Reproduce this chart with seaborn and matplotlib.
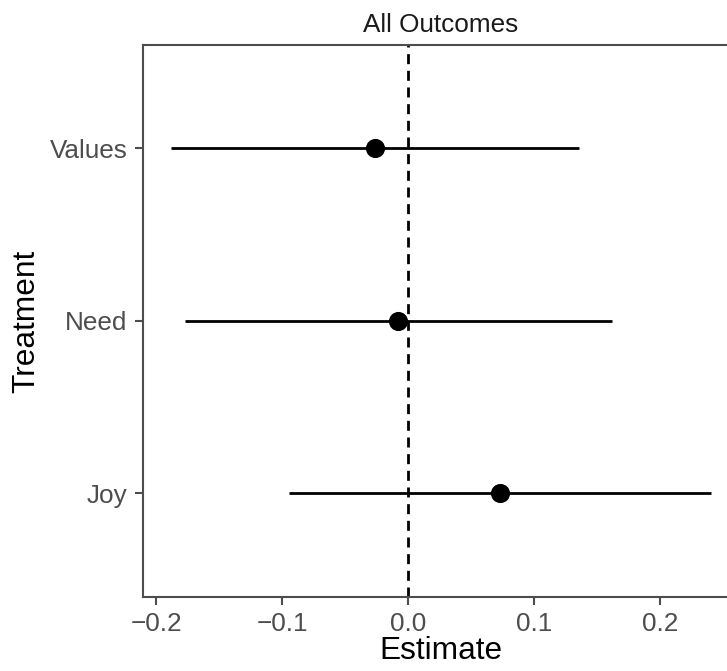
import numpy as np
import pandas as pd
import matplotlib
matplotlib.use("Agg")
import matplotlib.pyplot as plt
import seaborn as sns

# estimates
treatment = ["Joy", "Need", "Values"]
estimate = [0.0726, -0.0083, -0.0266]
ci_low = [-0.0948, -0.1774, -0.1885]
ci_high = [0.2401, 0.1615, 0.1353]

df = pd.DataFrame({"Treatment": treatment, "Estimate": estimate,
                   "lo": ci_low, "hi": ci_high})

sns.set_theme(style="ticks")
plt.rcParams["font.family"] = ["Liberation Sans", "DejaVu Sans"]

fig = plt.figure(figsize=(7.27, 6.71), dpi=100)
ax = fig.add_axes([0.1967, 0.1103, 0.8184, 0.8227])

ax.axvline(0, color="black", linestyle=(0, (3.6, 2.4)), linewidth=2.0, zorder=1)
ax.hlines(y=df["Treatment"], xmin=df["lo"], xmax=df["hi"], color="black",
          linewidth=2.0, zorder=2)
sns.scatterplot(data=df, x="Estimate", y="Treatment", ax=ax, color="black",
                s=190, edgecolor="black", linewidth=0, zorder=3)

ax.set_xlim(-0.2107, 0.2615)
ax.set_ylim(-0.6, 2.6)
ax.set_xticks([-0.2, -0.1, 0.0, 0.1, 0.2])
ax.set_xticklabels(["\u22120.2", "\u22120.1", "0.0", "0.1", "0.2"])

for side in ["left", "top", "bottom", "right"]:
    ax.spines[side].set_color("#4D4D4D")
    ax.spines[side].set_linewidth(1.5)

ax.tick_params(axis="both", colors="#4D4D4D", labelcolor="#4D4D4D",
               labelsize=18.8, length=6, width=1.5, pad=5)
ax.set_xlabel("Estimate", fontsize=22.8, color="black", labelpad=0)
ax.set_ylabel("Treatment", fontsize=22.8, color="black", labelpad=6.5)
ax.set_title("All Outcomes", fontsize=18.8, color="#1A1A1A", pad=9)

fig.savefig("out.png", dpi=100)
